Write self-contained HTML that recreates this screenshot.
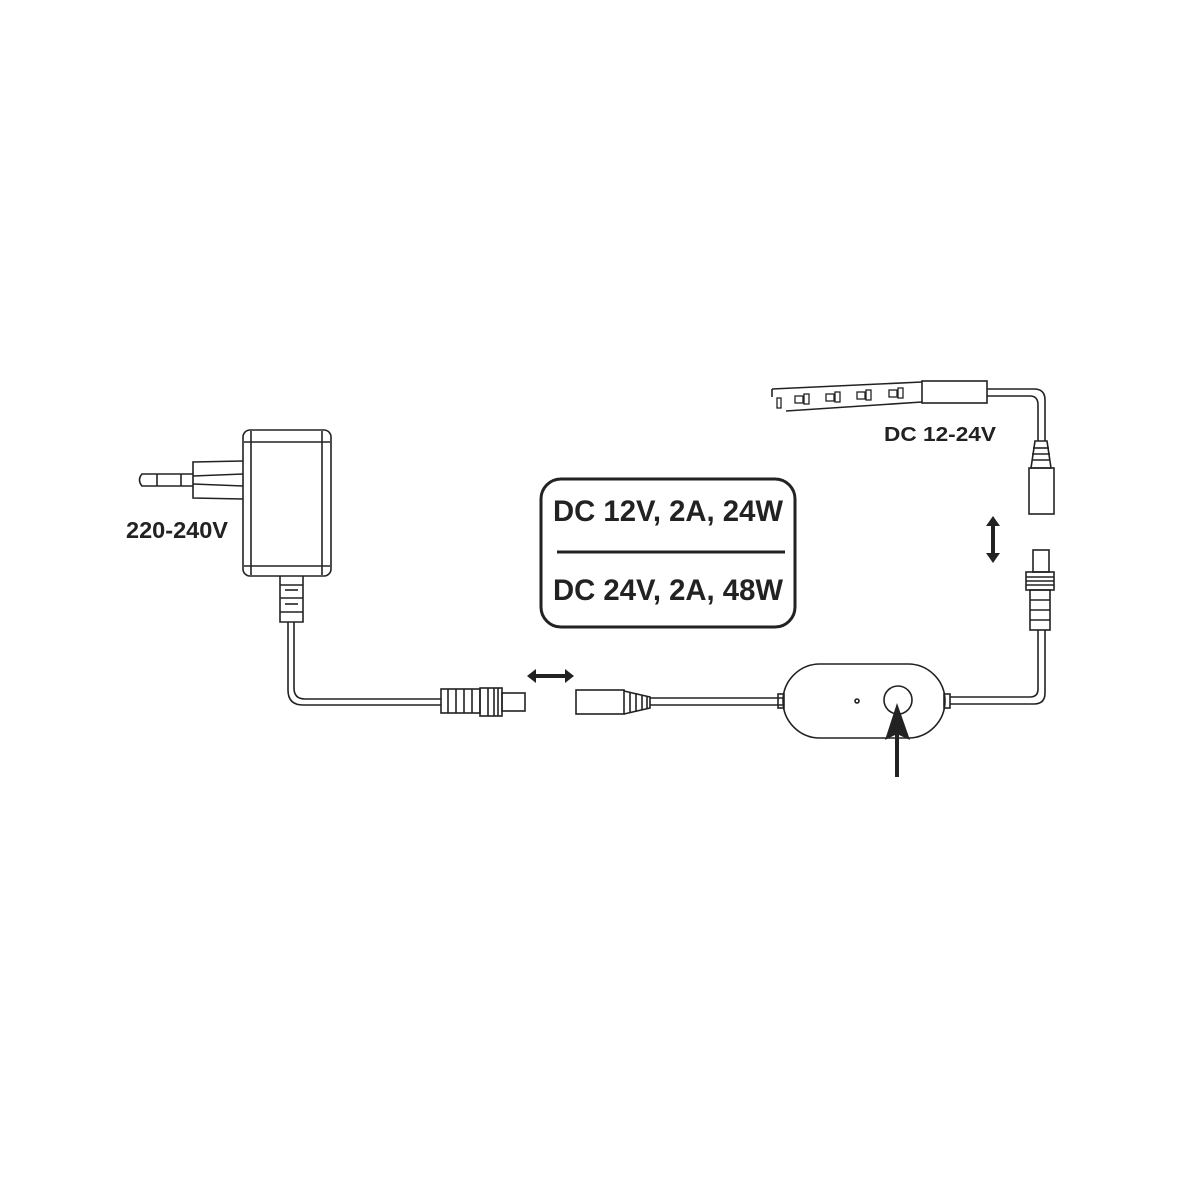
<!DOCTYPE html>
<html><head><meta charset="utf-8"><style>
html,body{margin:0;padding:0;background:#fff;}
svg{display:block}
text{font-family:"Liberation Sans",sans-serif;font-weight:bold;fill:#222}
</style></head><body>
<svg width="1200" height="1200" viewBox="0 0 1200 1200" xmlns="http://www.w3.org/2000/svg">
<g fill="none" stroke="#222" stroke-width="1.6">
<rect x="243" y="430" width="88" height="146" rx="7"/>
<line x1="251" y1="431" x2="251" y2="575"/>
<line x1="322" y1="431" x2="322" y2="575"/>
<line x1="244" y1="442" x2="330" y2="442"/>
<line x1="244" y1="566" x2="330" y2="566"/>
<path d="M243 461 L193 462 L193 498 L243 499"/>
<line x1="193" y1="476" x2="243" y2="474"/>
<line x1="193" y1="484" x2="243" y2="486"/>
<path d="M193 474 L142 474 Q137 480 142 486 L193 486"/>
<line x1="157" y1="474" x2="157" y2="486"/>
<line x1="181" y1="474" x2="181" y2="486"/>
<path d="M280 576 L280 622 L303 622 L303 576"/>
<line x1="280" y1="585" x2="303" y2="585"/><line x1="285" y1="590" x2="298" y2="590"/>
<line x1="280" y1="598" x2="303" y2="598"/><line x1="285" y1="604" x2="298" y2="604"/>
<line x1="280" y1="612" x2="303" y2="612"/>
<path d="M288 622 L288 690 Q288 705 303 705 L441 705"/>
<path d="M294 622 L294 688 Q294 699 305 699 L441 699"/>
<rect x="441" y="689" width="39" height="24"/>
<line x1="448" y1="689" x2="448" y2="713"/><line x1="456" y1="689" x2="456" y2="713"/><line x1="464" y1="689" x2="464" y2="713"/><line x1="472" y1="689" x2="472" y2="713"/>
<rect x="480" y="688" width="22" height="28"/>
<line x1="488" y1="688" x2="488" y2="716"/><line x1="494" y1="688" x2="494" y2="716"/><line x1="498" y1="688" x2="498" y2="716"/>
<rect x="502" y="693" width="23" height="18"/>
<rect x="576" y="690" width="48" height="24"/>
<path d="M624 691 L650 697 L650 708 L624 714"/>
<line x1="630" y1="692" x2="630" y2="713"/><line x1="636" y1="693" x2="636" y2="712"/><line x1="642" y1="695" x2="642" y2="710"/><line x1="647" y1="696" x2="647" y2="709"/>
<line x1="650" y1="698" x2="783" y2="698"/><line x1="650" y1="705" x2="783" y2="705"/>
<rect x="783" y="664" width="162" height="74" rx="37"/>
<rect x="778" y="694" width="6" height="14"/>
<rect x="944" y="694" width="6" height="14"/>
<circle cx="857" cy="701" r="2"/>
<circle cx="898" cy="700" r="14"/>
<path d="M950 697 L1030 697 Q1038 697 1038 689 L1038 630"/>
<path d="M950 704 L1034 704 Q1045 704 1045 693 L1045 630"/>
<rect x="1033" y="550" width="16" height="22"/>
<rect x="1026" y="572" width="28" height="18"/>
<line x1="1026" y1="577" x2="1054" y2="577"/><line x1="1026" y1="581" x2="1054" y2="581"/><line x1="1026" y1="585" x2="1054" y2="585"/>
<rect x="1030" y="590" width="20" height="40"/>
<line x1="1030" y1="600" x2="1050" y2="600"/><line x1="1030" y1="610" x2="1050" y2="610"/><line x1="1030" y1="620" x2="1050" y2="620"/>
<rect x="1029" y="468" width="25" height="46"/>
<path d="M1035 441 L1047 441 L1051 468 L1031 468 Z"/>
<line x1="1033" y1="448" x2="1049" y2="448"/><line x1="1032" y1="454" x2="1050" y2="454"/><line x1="1032" y1="460" x2="1050" y2="460"/>
<path d="M1038 441 L1038 405 Q1038 396 1030 396 L987 396"/>
<path d="M1045 441 L1045 400 Q1045 389 1034 389 L987 389"/>
<rect x="922" y="381" width="65" height="22"/>
<path d="M772 389 L922 382"/>
<path d="M786 411 L922 402"/>
<path d="M772 389 L772 397"/>
</g>
<g fill="none" stroke="#222" stroke-width="1.3">
<rect x="795" y="396" width="8" height="7"/><rect x="804" y="394" width="5" height="10"/>
<rect x="826" y="394" width="8" height="7"/><rect x="835" y="392" width="5" height="10"/>
<rect x="857" y="392" width="8" height="7"/><rect x="866" y="390" width="5" height="10"/>
<rect x="889" y="390" width="8" height="7"/><rect x="898" y="388" width="5" height="10"/>
<rect x="777" y="398" width="4" height="10"/>
</g>
<rect x="541" y="479" width="254" height="148" rx="20" fill="none" stroke="#222" stroke-width="3"/>
<line x1="557" y1="552" x2="785" y2="552" stroke="#222" stroke-width="3"/>
<text x="553" y="521" font-size="30" textLength="230" lengthAdjust="spacingAndGlyphs">DC 12V, 2A, 24W</text>
<text x="553" y="600" font-size="30" textLength="230" lengthAdjust="spacingAndGlyphs">DC 24V, 2A, 48W</text>
<text x="126" y="538" font-size="23" textLength="102" lengthAdjust="spacingAndGlyphs">220-240V</text>
<text x="884" y="441" font-size="20" textLength="112" lengthAdjust="spacingAndGlyphs">DC 12-24V</text>
<g fill="#222">
<path d="M527 676 L536 669 L536 674 L565 674 L565 669 L574 676 L565 683 L565 678 L536 678 L536 683 Z"/>
<path d="M993 516 L1000 526 L995 526 L995 553 L1000 553 L993 563 L986 553 L991 553 L991 526 L986 526 Z"/>
<path d="M897 703 L910 740 L899 735 L899 777 L895 777 L895 735 L885 740 Z"/>
</g>
</svg>
</body></html>
